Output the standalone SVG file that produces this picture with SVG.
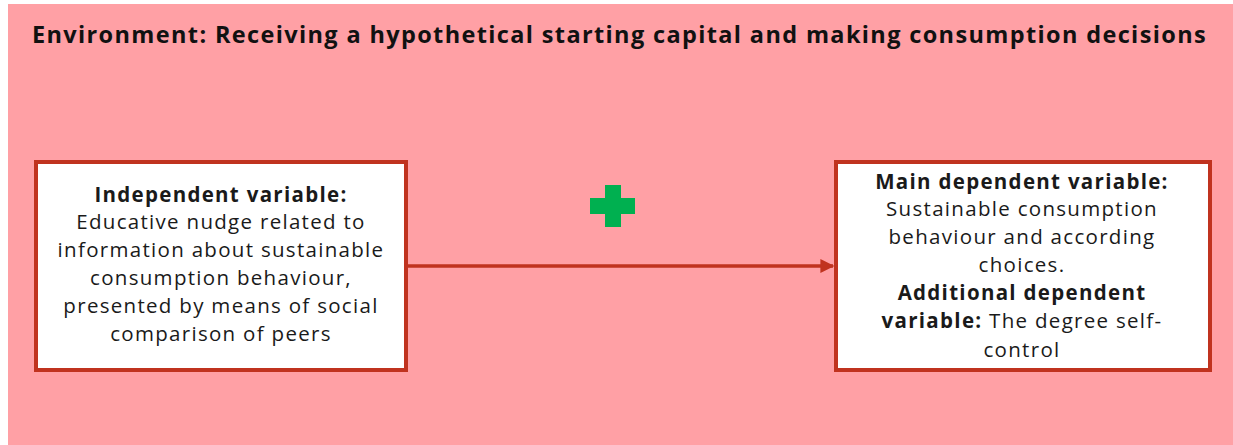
<svg xmlns="http://www.w3.org/2000/svg" width="1233" height="445" viewBox="0 0 1233 445">
<defs>
<style>
.t{font-family:"Open Sans","Noto Sans","DejaVu Sans",sans-serif;fill:#1a1a1a;text-anchor:middle;font-size:20.5px;letter-spacing:1.3px}
.b{font-weight:bold}
.box{fill:#ffffff;stroke:#c0331f;stroke-width:4}
.title{font-family:"Open Sans","Noto Sans","DejaVu Sans",sans-serif;font-weight:bold;font-size:23.5px;letter-spacing:1.36px;fill:#111}
</style>
<marker id="ah" viewBox="0 0 10 10" refX="9" refY="5" markerWidth="4" markerHeight="4" orient="auto" markerUnits="strokeWidth">
<path d="M0,0 L10,5 L0,10 z" fill="#c0331f"/>
</marker>
</defs>
<rect x="8" y="4" width="1225" height="441" fill="#ffa0a5"/>
<text class="title" x="32" y="43">Environment: Receiving a hypothetical starting capital and making consumption decisions</text>
<g id="connectors">
<line x1="408" y1="266" x2="833" y2="266" stroke="#c0331f" stroke-width="3.5" marker-end="url(#ah)"/>
</g>
<g id="plus">
<path d="M605,185 H621 V198 H635 V214 H621 V227 H605 V214 H590 V198 H605 Z" fill="#00b050"/>
</g>
<g id="independent">
<rect class="box" x="36" y="162" width="370" height="208"/>
<text class="t" x="221" y="202"><tspan class="b">Independent variable:</tspan></text>
<text class="t" x="221" y="229">Educative nudge related to</text>
<text class="t" x="221" y="257">information about sustainable</text>
<text class="t" x="221" y="285">consumption behaviour,</text>
<text class="t" x="221" y="313">presented by means of social</text>
<text class="t" x="221" y="341">comparison of peers</text>
</g>
<g id="dependent">
<rect class="box" x="836" y="162" width="374" height="208"/>
<text class="t" x="1022" y="189"><tspan class="b">Main dependent variable:</tspan></text>
<text class="t" x="1022" y="216">Sustainable consumption</text>
<text class="t" x="1022" y="244">behaviour and according</text>
<text class="t" x="1022" y="272">choices.</text>
<text class="t b" x="1022" y="300">Additional dependent</text>
<text class="t" x="1022" y="328"><tspan class="b">variable:</tspan> The degree self-</text>
<text class="t" x="1022" y="357">control</text>
</g>
</svg>
